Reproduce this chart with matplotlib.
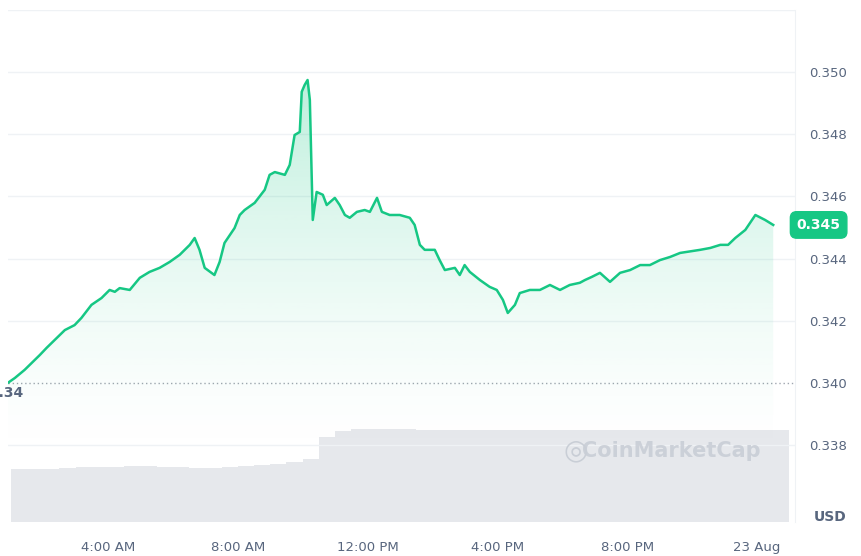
import numpy as np
import matplotlib
matplotlib.use("Agg")
import matplotlib.pyplot as plt
from matplotlib.patches import Polygon

# price path: hours (since midnight) and price
hours = [0.91,1.13,1.43,1.90,2.11,2.67,2.97,3.18,3.49,3.80,4.05,4.21,4.36,4.67,4.98,5.28,5.59,5.90,6.21,6.52,6.67,6.82,6.98,7.28,7.44,7.59,7.90,8.06,8.21,8.52,8.83,8.98,9.14,9.45,9.60,9.75,9.91,9.97,10.06,10.15,10.22,10.31,10.43,10.62,10.74,10.99,11.14,11.30,11.45,11.67,11.91,12.07,12.29,12.44,12.68,12.99,13.30,13.45,13.61,13.76,14.07,14.22,14.38,14.69,14.84,14.99,15.15,15.46,15.76,15.98,16.17,16.32,16.54,16.69,17.00,17.31,17.62,17.93,18.23,18.54,18.70,18.91,19.16,19.47,19.78,20.09,20.40,20.70,21.01,21.32,21.63,22.25,22.56,22.87,23.11,23.33,23.64,23.95,24.25,24.50]
prices_px = [383,378,370,355,348,330,325,318,305,298,290,292,288,290,278,272,268,262,255,245,238,250,268,275,262,243,228,215,210,203,190,175,172,175,165,135,132,92,85,80,100,220,192,195,205,198,205,215,218,212,210,212,198,212,215,215,218,225,245,250,250,260,270,268,275,265,272,280,287,290,300,313,305,293,290,290,285,290,285,283,280,277,273,282,273,270,265,265,260,257,253,250,248,245,245,238,230,215,220,225]
prices = [round(0.340 + (383 - p) / 31100, 5) for p in prices_px]

vol_hours = [1.0,1.5,2.0,2.5,3.0,3.5,4.0,4.5,5.0,5.5,6.0,6.5,7.0,7.5,8.0,8.5,9.0,9.5,10.0,10.5,11.0,11.5,12.0,12.5,13.0,13.5,14.0,14.5,15.0,15.5,16.0,16.5,17.0,17.5,18.0,18.5,19.0,19.5,20.0,20.5,21.0,21.5,22.0,22.5,23.0,23.5,24.0,24.5]
volumes = [0.56,0.56,0.56,0.57,0.58,0.58,0.58,0.59,0.59,0.58,0.58,0.57,0.57,0.58,0.59,0.60,0.61,0.63,0.66,0.90,0.96,0.98,0.98,0.98,0.98,0.97,0.97,0.97,0.97,0.97,0.97,0.97,0.97,0.97,0.97,0.97,0.97,0.97,0.97,0.97,0.97,0.97,0.97,0.97,0.97,0.97,0.97,0.97]

xtick_pos = [4, 8, 12, 16, 20, 24]
xtick_labels = ["4:00 AM", "8:00 AM", "12:00 PM", "4:00 PM", "8:00 PM", "23 Aug"]
ytick_pos = [0.338, 0.340, 0.342, 0.344, 0.346, 0.348, 0.350]

green = "#16c784"
grey = "#58667e"

fig = plt.figure(figsize=(8.61, 5.56), dpi=100)
ax = fig.add_axes([8/861, 34/556, 787/861, 512/556])
x0 = 4 + (8 - 108) / 32.45
x1 = 4 + (795 - 108) / 32.45
ax.set_xlim(x0, x1)
ax.set_ylim(0.33553, 0.35199)

# volume on twin axis
axv = ax.twinx()
axv.set_ylim(0, 5.4)
axv.bar(vol_hours, volumes, width=0.5, color="#e6e8ec", align="edge", zorder=0)
axv.set_yticks([])
for s in axv.spines.values():
    s.set_visible(False)
ax.set_zorder(axv.get_zorder() + 1)
ax.patch.set_visible(False)

for y in ytick_pos + [0.352]:
    if y != 0.340:
        ax.axhline(y, color="#eff2f5", lw=1, zorder=0)
ax.axhline(0.340, color="#a0a6b0", lw=1, ls=(0, (1, 2)), zorder=1)

# gradient fill
ymin = 0.3375
grad = np.linspace(0, 1, 256)
rgba = np.zeros((256, 1, 4))
rgba[:, 0, 0] = 0x16/255; rgba[:, 0, 1] = 0xc7/255; rgba[:, 0, 2] = 0x84/255
rgba[:, 0, 3] = (grad ** 1.5) * 0.28
im = ax.imshow(rgba, extent=[x0, x1, ymin, max(prices)], aspect="auto", origin="lower", zorder=1)
poly = Polygon(list(zip(hours, prices)) + [(hours[-1], ymin), (hours[0], ymin)], closed=True,
               facecolor="none", edgecolor="none", transform=ax.transData)
ax.add_patch(poly)
im.set_clip_path(poly)
ax.set_xlim(x0, x1)
ax.set_ylim(0.33553, 0.35199)
ax.plot(hours, prices, color=green, lw=1.8, zorder=3)

ax.set_xticks(xtick_pos)
ax.set_xticklabels(xtick_labels, color=grey, fontsize=9.5)
ax.tick_params(axis="x", length=0, pad=14)
ax.yaxis.tick_right()
ax.set_yticks(ytick_pos)
ax.set_yticklabels([f"{v:.3f}" for v in ytick_pos], color=grey, fontsize=9.5)
ax.tick_params(axis="y", length=0, pad=10)
for s in ax.spines.values():
    s.set_visible(False)
ax.spines["right"].set_visible(True)
ax.spines["right"].set_color("#eff2f5")

ax.text(0.3425, 0.3399, "0.34", color=grey, fontsize=10, ha="left", va="top",
        transform=ax.transData, fontweight="bold")
ax.text(x1 + 0.05, prices[-1], "0.345", color="white", fontsize=10, fontweight="bold",
        ha="left", va="center", bbox=dict(boxstyle="round,pad=0.45", fc=green, ec=green))
fig.text(830/861, 1 - 517/556, "USD", color=grey, fontsize=10, fontweight="bold", ha="center", va="center")
fig.text(582/861, 1 - 451/556, "CoinMarketCap", color="#c9ced6", fontsize=15, fontweight="bold",
         ha="left", va="center", alpha=0.9)
fig.text(576/861, 1 - 450/556, "◎", color="#c9ced6", fontsize=20, ha="center", va="center")

fig.savefig("out.png", dpi=100)
